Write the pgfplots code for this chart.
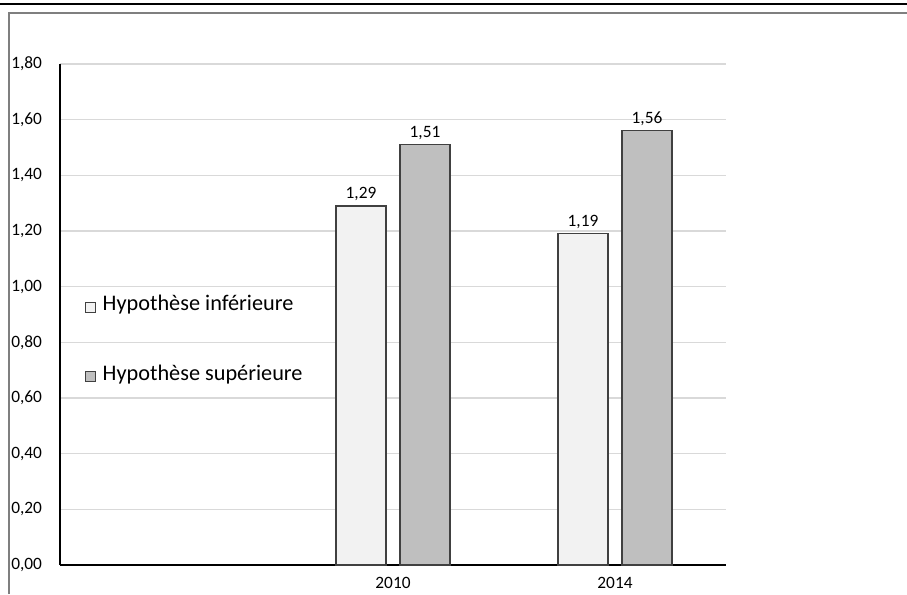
\documentclass[border=0pt]{standalone}
\usepackage{pgfplots}
\pgfplotsset{compat=1.18}
\usepackage{fontspec}
\setmainfont{Carlito}

\definecolor{barlow}{HTML}{F2F2F2}
\definecolor{barhigh}{HTML}{BFBFBF}
\definecolor{baredge}{HTML}{404040}
\definecolor{gridgray}{HTML}{D9D9D9}
\definecolor{framegray}{HTML}{7F7F7F}

\begin{document}
\begin{tikzpicture}
\useasboundingbox (0,0) rectangle (680.25pt,445.5pt);
% heavy rule on top and thin frame around the chart area
\draw[black, line width=2pt] (0,442.5pt) -- (680.25pt,442.5pt);
\draw[framegray, line width=0.8pt] (6.75pt,0) -- (6.75pt,435.75pt) -- (681pt,435.75pt);

\begin{axis}[
  at={(45pt,21.75pt)}, anchor=south west,
  scale only axis,
  width=499.5pt, height=375.75pt,
  ybar=10.5pt, bar width=37.5pt,
  xmin=-0.5, xmax=2.5,
  ymin=0, ymax=1.8,
  xtick={0,1,2}, xticklabels={,2010,2014},
  ytick={0,0.2,...,1.8},
  axis x line*=bottom, axis y line*=left,
  axis line style={black, line width=0.8pt, -},
  major tick length=0pt,
  ymajorgrids, grid style={gridgray, line width=1pt},
  /pgf/number format/.cd, use comma, fixed, fixed zerofill, precision=2,
  assume math mode=true,
  /pgfplots/.cd,
  yticklabel style={anchor=west, inner sep=0pt, xshift=-36.75pt, font=\fontsize{13}{15}\selectfont},
  xticklabel style={yshift=-6pt, font=\fontsize{13}{15}\selectfont},
  nodes near coords,
  every node near coord/.append style={font=\fontsize{13}{15}\selectfont, black, yshift=0pt},
  legend image code/.code={\draw[#1, line width=0.6pt] (0pt,-3.75pt) rectangle (7.5pt,3.75pt);},
  legend cell align=left,
  legend style={at={(axis description cs:0.0375,0.445)}, anchor=west,
    draw=none, fill=none, inner sep=0pt, row sep=42pt, column sep=5pt,
    nodes={inner sep=0pt, text height=0.75em, text depth=0.25em},
    font=\fontsize{16.7}{19}\selectfont},
]
\addplot[fill=barlow, draw=baredge, line width=1pt] coordinates {(1,1.29) (2,1.19)};
\addplot[fill=barhigh, draw=baredge, line width=1pt] coordinates {(1,1.51) (2,1.56)};
\legend{Hypothèse inférieure, Hypothèse supérieure}
\end{axis}
\end{tikzpicture}
\end{document}
